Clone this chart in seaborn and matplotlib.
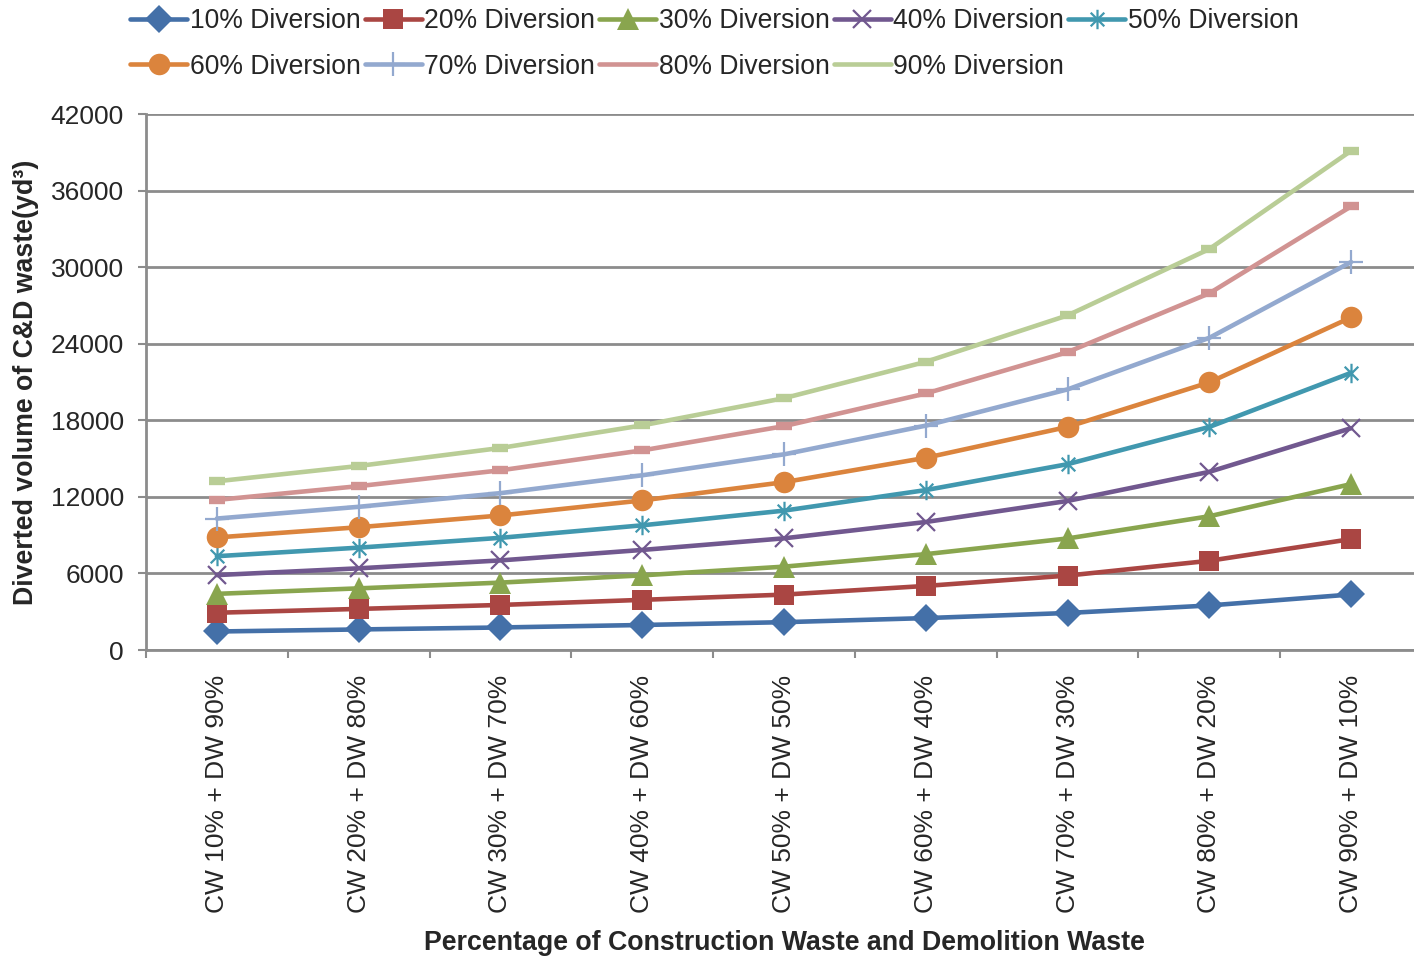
import numpy as np
import pandas as pd
import matplotlib
matplotlib.use("Agg")
import matplotlib.pyplot as plt
from matplotlib.path import Path
from matplotlib.lines import Line2D
import seaborn as sns

# Mix of construction waste (CW) and demolition waste (DW)
categories = ["CW 10% + DW 90%", "CW 20% + DW 80%", "CW 30% + DW 70%",
              "CW 40% + DW 60%", "CW 50% + DW 50%", "CW 60% + DW 40%",
              "CW 70% + DW 30%", "CW 80% + DW 20%", "CW 90% + DW 10%"]

# Diverted volume (yd³) for each diversion rate
div_10 = [1450, 1610, 1765, 1960, 2180, 2500, 2900, 3490, 4350]
div_20 = [2920, 3220, 3530, 3930, 4340, 5020, 5830, 6990, 8690]
div_30 = [4400, 4830, 5280, 5850, 6530, 7510, 8740, 10480, 13000]
div_40 = [5870, 6400, 7020, 7840, 8750, 10030, 11680, 13960, 17380]
div_50 = [7350, 8020, 8790, 9770, 10920, 12530, 14560, 17480, 21720]
div_60 = [8820, 9620, 10540, 11720, 13150, 15060, 17480, 20970, 26060]
div_70 = [10300, 11220, 12290, 13690, 15330, 17580, 20420, 24460, 30400]
div_80 = [11760, 12840, 14080, 15640, 17540, 20100, 23340, 27950, 34760]
div_90 = [13220, 14420, 15830, 17600, 19730, 22580, 26220, 31420, 39120]

series_names = ["10% Diversion", "20% Diversion", "30% Diversion",
                "40% Diversion", "50% Diversion", "60% Diversion",
                "70% Diversion", "80% Diversion", "90% Diversion"]
series_values = [div_10, div_20, div_30, div_40, div_50,
                 div_60, div_70, div_80, div_90]

y_ticks = [0, 6000, 12000, 18000, 24000, 30000, 36000, 42000]

# asterisk marker: an x with a vertical bar through it
star_path = Path(
    [(-0.7, -0.7), (0.7, 0.7), (-0.7, 0.7), (0.7, -0.7), (0, -1), (0, 1)],
    [Path.MOVETO, Path.LINETO, Path.MOVETO, Path.LINETO, Path.MOVETO, Path.LINETO])

styles = [
    dict(color="#4470A8", marker="D", ms=14, mew=0),
    dict(color="#AA4643", marker="s", ms=14.5, mew=0),
    dict(color="#89A54E", marker="^", ms=15.5, mew=0),
    dict(color="#71588F", marker="x", ms=13.5, mew=1.6),
    dict(color="#4198AF", marker=star_path, ms=14, mew=1.6),
    dict(color="#DB843D", marker="o", ms=15.5, mew=0),
    dict(color="#93A9CF", marker="+", ms=17, mew=1.6),
    dict(color="#D19392", marker="_", ms=11, mew=6),
    dict(color="#B9CD96", marker="_", ms=11, mew=6),
]

sns.set_style("white")
plt.rcParams["font.family"] = ["Liberation Sans", "DejaVu Sans"]

fig = plt.figure(figsize=(14.14, 9.56), dpi=100)
ax = fig.add_axes([146 / 1414, 1 - 650 / 956, 1276 / 1414, 536 / 956])

grid_color = "#8C8C8C"
x = np.arange(len(categories))
legend_handles = []
for name, vals, st in zip(series_names, series_values, styles):
    df = pd.DataFrame({"x": x, "y": vals})
    sns.lineplot(data=df, x="x", y="y", ax=ax, color=st["color"],
                 linewidth=3.3, marker=st["marker"], markersize=st["ms"],
                 markeredgewidth=st["mew"], markeredgecolor=st["color"],
                 label=name, legend=False, zorder=3)
    # legend key: the dash markers of the lightest series sit inside the line
    key_marker = "None" if st["marker"] == "_" else st["marker"]
    legend_handles.append(Line2D([], [], color=st["color"], linewidth=3.3,
                                 marker=key_marker, markersize=st["ms"],
                                 markeredgewidth=st["mew"],
                                 markeredgecolor=st["color"]))

ax.set_xlim(-0.5, len(categories) - 0.5)
ax.set_ylim(0, 42000)
ax.set_yticks(y_ticks)
ax.set_yticklabels([str(v) for v in y_ticks], fontsize=19)
ax.set_xticks(x)
ax.set_xticklabels(categories, rotation=90, fontsize=19)
ax.set_xticks(np.arange(-0.5, len(categories)), minor=True)

ax.yaxis.grid(True, color=grid_color, linewidth=2)
ax.xaxis.grid(False)
ax.set_axisbelow(True)
for side in ["top", "right"]:
    ax.spines[side].set_visible(False)
for side in ["left", "bottom"]:
    ax.spines[side].set_color(grid_color)
    ax.spines[side].set_linewidth(2)

ax.tick_params(axis="y", which="major", direction="out", length=6, width=1.5,
               color=grid_color, pad=10, left=True)
ax.tick_params(axis="x", which="major", length=0, pad=18)
ax.tick_params(axis="x", which="minor", direction="out", length=6, width=1.5,
               color=grid_color, bottom=True)

ax.set_xlabel("Percentage of Construction Waste and Demolition Waste",
              fontsize=19.3, fontweight="bold", labelpad=12)
ax.set_ylabel("Diverted volume of C&D waste(yd³)", fontsize=19.3,
              fontweight="bold", labelpad=8)

# two legend rows, filled left to right
order = [0, 5, 1, 6, 2, 7, 3, 8, 4]
fig.legend([legend_handles[i] for i in order], [series_names[i] for i in order],
           loc="upper left", bbox_to_anchor=(130 / 1414, 1 - 8 / 956),
           ncol=5, frameon=False, fontsize=19.1, handlelength=2.15,
           handletextpad=0.1, columnspacing=0.15, labelspacing=0.74,
           borderpad=0, borderaxespad=0)

fig.savefig("out.png", dpi=100)
